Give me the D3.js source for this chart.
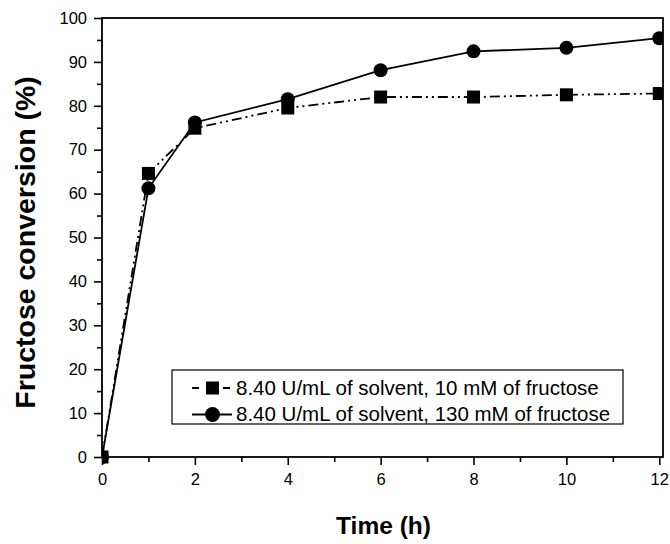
<!DOCTYPE html>
<html>
<head>
<meta charset="utf-8">
<script src="https://cdn.jsdelivr.net/npm/d3@7"></script>
<style>
  body { margin: 0; background: #fff; }
  svg { font-family: Arial, "Liberation Sans", sans-serif; }
</style>
</head>
<body>
<svg id="chart" width="670" height="544"></svg>
<script>
// time points (h)
const times = [0, 1, 2, 4, 6, 8, 10, 12];
// fructose conversion (%) for each series
const conv10mM = [0, 64.6, 74.9, 79.5, 82.0, 82.0, 82.5, 82.8];
const conv130mM = [0, 61.2, 76.2, 81.5, 88.1, 92.4, 93.2, 95.4];
const seriesNames = ["8.40 U/mL of solvent, 10 mM of fructose",
                     "8.40 U/mL of solvent, 130 mM of fructose"];
const xTicks = [0, 2, 4, 6, 8, 10, 12];
const yTicks = [0, 10, 20, 30, 40, 50, 60, 70, 80, 90, 100];

const svg = d3.select("#chart");
const pLeft = 102, pRight = 663, pTop = 18, pBottom = 457;

const x = d3.scaleLinear().domain([0, 12.08]).range([pLeft, pRight]);
const y = d3.scaleLinear().domain([0, 100]).range([pBottom, pTop]);

svg.append("defs").append("clipPath").attr("id", "clip")
  .append("rect").attr("x", pLeft).attr("y", pTop - 10)
  .attr("width", pRight - pLeft).attr("height", pBottom - pTop + 20);

// axes
svg.append("g").attr("transform", `translate(0,${pBottom})`)
  .call(d3.axisBottom(x).tickValues(xTicks).tickSize(8).tickSizeOuter(0).tickPadding(8));
svg.append("g").attr("transform", `translate(0,${pBottom})`)
  .call(d3.axisBottom(x).tickValues(d3.range(1, 12, 2)).tickSize(5).tickSizeOuter(0).tickFormat(""));
svg.append("g").attr("transform", `translate(${pLeft},0)`)
  .call(d3.axisLeft(y).tickValues(yTicks).tickSize(8).tickSizeOuter(0).tickPadding(7));
svg.append("g").attr("transform", `translate(${pLeft},0)`)
  .call(d3.axisLeft(y).tickValues(d3.range(5, 100, 10)).tickSize(5).tickSizeOuter(0).tickFormat(""));

svg.selectAll(".domain").remove();
svg.selectAll(".tick line").attr("stroke", "#000").attr("stroke-width", 1.6);
svg.selectAll(".tick text").attr("font-size", 16.5).attr("fill", "#000")
  .attr("font-family", "Arial, 'Liberation Sans', sans-serif");

// frame
svg.append("rect").attr("x", pLeft).attr("y", pTop)
  .attr("width", pRight - pLeft).attr("height", pBottom - pTop)
  .attr("fill", "none").attr("stroke", "#000").attr("stroke-width", 1.8);

// axis titles
svg.append("text").attr("x", 383.5).attr("y", 534)
  .attr("text-anchor", "middle").attr("font-size", 24.5).attr("font-weight", "bold")
  .text("Time (h)");
svg.append("text").attr("transform", "translate(35,242.5) rotate(-90)")
  .attr("text-anchor", "middle").attr("font-size", 28.5).attr("font-weight", "bold")
  .text("Fructose conversion (%)");

const plot = svg.append("g").attr("clip-path", "url(#clip)");
const line = d3.line().x(d => x(d[0])).y(d => y(d[1]));
const dashDotDot = "10,4,2,4,2,4";

const d10 = times.map((t, i) => [t, conv10mM[i]]);
const d130 = times.map((t, i) => [t, conv130mM[i]]);

plot.append("path").datum(d10).attr("d", line).attr("fill", "none")
  .attr("stroke", "#000").attr("stroke-width", 1.8).attr("stroke-dasharray", dashDotDot);
plot.append("path").datum(d130).attr("d", line).attr("fill", "none")
  .attr("stroke", "#000").attr("stroke-width", 1.8);

const sq = 13, r = 7;
plot.selectAll(".sq").data(d10).enter().append("rect")
  .attr("x", d => x(d[0]) - sq / 2).attr("y", d => y(d[1]) - sq / 2)
  .attr("width", sq).attr("height", sq).attr("fill", "#000");
plot.selectAll(".ci").data(d130).enter().append("circle")
  .attr("cx", d => x(d[0])).attr("cy", d => y(d[1])).attr("r", r).attr("fill", "#000");

// legend
const lg = svg.append("g");
lg.append("rect").attr("x", 172).attr("y", 370).attr("width", 451).attr("height", 54)
  .attr("fill", "#fff").attr("stroke", "#000").attr("stroke-width", 1.2);
const rows = [388, 414.5];
const mx = 212.5;
lg.append("line").attr("x1", 192).attr("x2", 230).attr("y1", rows[0]).attr("y2", rows[0])
  .attr("stroke", "#000").attr("stroke-width", 2).attr("stroke-dasharray", "7,24,7");
lg.append("rect").attr("x", mx - sq / 2).attr("y", rows[0] - sq / 2)
  .attr("width", sq).attr("height", sq).attr("fill", "#000");
lg.append("line").attr("x1", 192).attr("x2", 232).attr("y1", rows[1]).attr("y2", rows[1])
  .attr("stroke", "#000").attr("stroke-width", 2);
lg.append("circle").attr("cx", mx).attr("cy", rows[1]).attr("r", r + 0.5).attr("fill", "#000");
lg.selectAll(".lt").data(seriesNames).enter().append("text")
  .attr("x", 236).attr("y", (d, i) => rows[i] + 6.5)
  .attr("font-size", 20.5).text(d => d);
</script>
</body>
</html>
